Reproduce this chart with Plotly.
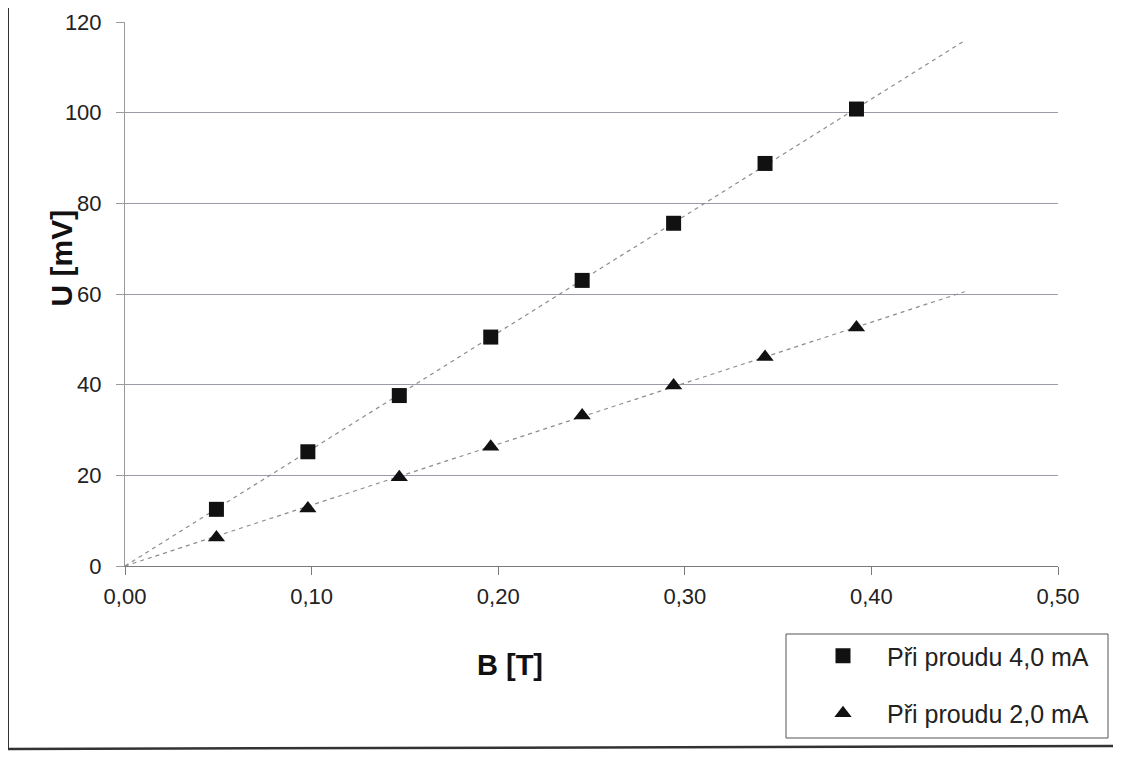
import numpy as np
import plotly.graph_objects as go

B = [0.049, 0.098, 0.147, 0.196, 0.245, 0.294, 0.343, 0.392]
U_4mA = [12.5, 25.2, 37.6, 50.5, 63.0, 75.6, 88.8, 100.8]
U_2mA = [6.3, 12.7, 19.6, 26.3, 33.2, 39.8, 46.1, 52.6]
names = ["Při proudu 4,0 mA", "Při proudu 2,0 mA"]
x_ticks = [0.0, 0.1, 0.2, 0.3, 0.4, 0.5]
x_ticktext = ["0,00", "0,10", "0,20", "0,30", "0,40", "0,50"]
y_ticks = [0, 20, 40, 60, 80, 100, 120]
trend_end = 0.45

fig = go.Figure()

def slope_origin(x, y):
    x = np.array(x); y = np.array(y)
    return float((x * y).sum() / (x * x).sum())

for ys in (U_4mA, U_2mA):
    k = slope_origin(B, ys)
    fig.add_trace(go.Scatter(x=[0, trend_end], y=[0, k * trend_end], mode="lines",
                             line=dict(color="#8c8c8c", width=1.2, dash="4px,4px"),
                             showlegend=False, hoverinfo="skip"))

fig.add_trace(go.Scatter(x=B, y=U_4mA, mode="markers", name=names[0], legendgroup="a",
                         marker=dict(symbol="square", size=15, color="#111111")))
fig.add_trace(go.Scatter(x=B, y=U_2mA, mode="markers", name=names[1], legendgroup="b",
                         marker=dict(symbol="triangle-up", size=15, color="#111111")))

font = "Liberation Sans, Arial, sans-serif"
fig.update_layout(
    width=1113, height=755,
    margin=dict(l=117, r=63, t=14, b=197, autoexpand=False),
    paper_bgcolor="white", plot_bgcolor="white",
    font=dict(family=font, size=22, color="#222222"),
    showlegend=True,
    legend=dict(x=(799 - 125) / 933, y=(566 - 633) / 544, xanchor="left", yanchor="top",
                bgcolor="rgba(0,0,0,0)", borderwidth=0,
                font=dict(size=25, color="#222222"), tracegroupgap=22,
                itemwidth=78),
    xaxis=dict(range=[0, 0.5], tickvals=x_ticks, ticktext=x_ticktext, automargin=False,
               showgrid=False, zeroline=False, showline=True,
               linecolor="#7a7a7a", linewidth=1, ticks="outside", ticklen=8,
               tickcolor="#7a7a7a", ticklabelstandoff=3, fixedrange=True),
    yaxis=dict(range=[0, 120], tickvals=y_ticks, showgrid=True, automargin=False,
               gridcolor="#9a9aa8", gridwidth=1, zeroline=False, showline=True,
               linecolor="#9a9a9a", linewidth=1, ticks="outside", ticklen=8,
               tickcolor="#9a9a9a", ticklabelstandoff=10, fixedrange=True),
)

fig.add_annotation(text="<b>U [mV]</b>", xref="paper", yref="paper",
                   x=(42 - 125) / 933, y=(566 - 258) / 544, textangle=-90,
                   showarrow=False, font=dict(size=30, color="#111111"))
fig.add_annotation(text="<b>B [T]</b>", xref="paper", yref="paper",
                   x=(510 - 125) / 933, y=(566 - 683) / 544,
                   showarrow=False, font=dict(size=29, color="#111111"))

# legend box
fig.add_shape(type="rect", xref="paper", yref="paper",
              x0=(786 - 125) / 933, x1=(1108 - 125) / 933,
              y0=(566 - 738) / 544, y1=(566 - 634) / 544,
              line=dict(color="#555555", width=1))
# page border lines from the scan
fig.add_shape(type="line", xref="paper", yref="paper",
              x0=(8 - 125) / 933, x1=(8 - 125) / 933, y0=(566 - 0) / 544, y1=(566 - 750) / 544,
              line=dict(color="#333333", width=2))
fig.add_shape(type="line", xref="paper", yref="paper",
              x0=(8 - 125) / 933, x1=(1121 - 125) / 933, y0=(566 - 749) / 544, y1=(566 - 746) / 544,
              line=dict(color="#333333", width=2.5))

fig.write_html("out.html")
